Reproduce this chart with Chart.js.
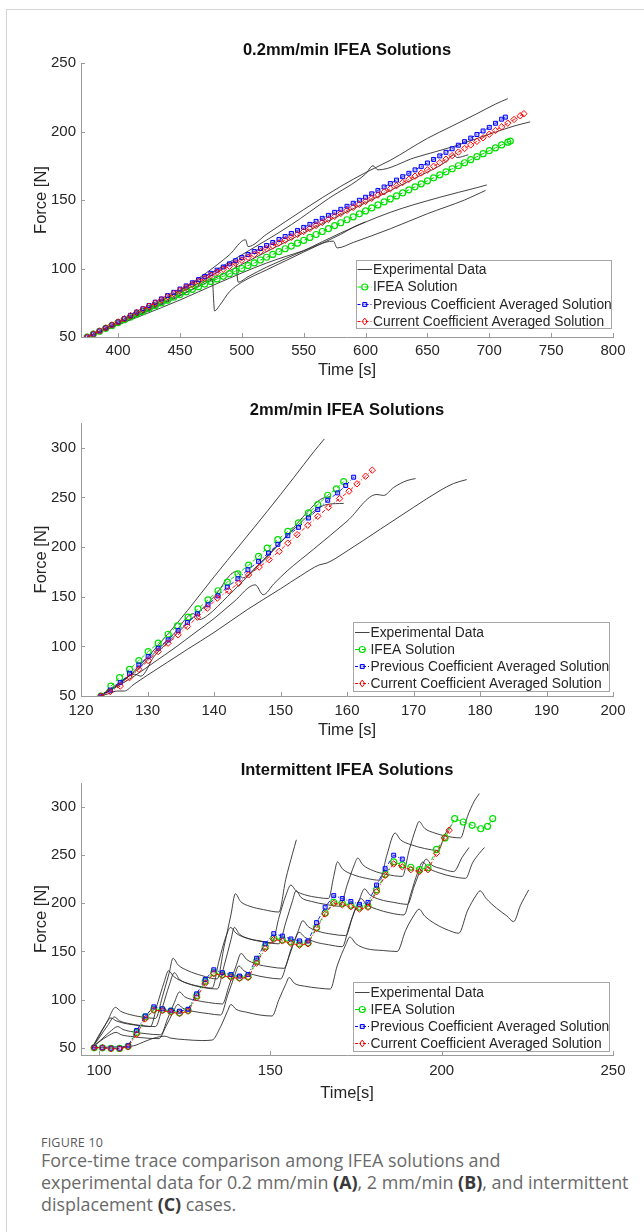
<!DOCTYPE html>
<html>
<head>
<meta charset="utf-8">
<script src="https://cdn.jsdelivr.net/npm/chart.js@4.4.1/dist/chart.umd.min.js"></script>
<style>
  html, body { margin: 0; padding: 0; background: #fff; }
  #page { position: relative; width: 644px; height: 1232px; overflow: hidden; }
  #frame { position: absolute; left: 6px; top: 9px; width: 660px; height: 1240px;
           border-top: 1px solid #d4d4d4; border-left: 1px solid #d4d4d4; }
  canvas { position: absolute; left: 0; }
  .cap { position: absolute; left: 41px; font-family: "Open Sans", "Noto Sans", sans-serif;
         color: #6a6a6a; white-space: nowrap; }
  .cap b { color: #3a3a3a; font-weight: 700; }
  #fig { top: 1134px; font-size: 12.5px; letter-spacing: 0.2px; color: #5a5a5a; }
  .ln { font-size: 17.9px; line-height: 22px; }
</style>
</head>
<body>
<div id="page">
  <div id="frame"></div>
  <canvas id="cA" width="644" height="380" style="top:0px"></canvas>
  <canvas id="cB" width="644" height="370" style="top:380px"></canvas>
  <canvas id="cC" width="644" height="360" style="top:750px"></canvas>
  <div class="cap" id="fig">FIGURE 10</div>
  <div class="cap ln" style="top:1149px">Force-time trace comparison among IFEA solutions and</div>
  <div class="cap ln" style="top:1171px">experimental data for 0.2 mm/min <b>(A)</b>, 2 mm/min <b>(B)</b>, and intermittent</div>
  <div class="cap ln" style="top:1193px">displacement <b>(C)</b> cases.</div>
</div>
<script>
// ---------- shared text ----------
const legendLabels = ['Experimental Data', 'IFEA Solution',
  'Previous Coefficient Averaged Solution', 'Current Coefficient Averaged Solution'];
const panelTitles = ['0.2mm/min IFEA Solutions', '2mm/min IFEA Solutions', 'Intermittent IFEA Solutions'];
const xTitles = ['Time [s]', 'Time [s]', 'Time[s]'];
const yTitle = 'Force [N]';

// ---------- (A) 0.2 mm/min ----------
const xTicksA = [400, 450, 500, 550, 600, 650, 700, 750, 800];
const yTicksA = [50, 100, 150, 200, 250];
const tA_ifea = [375,380,385,390,395,400,405,410,415,420,425,430,435,440,445,450,455,460,465,470,475,480,485,490,495,500,505,510,515,520,525,530,535,540,545,550,555,560,565,570,575,580,585,590,595,600,605,610,615,620,625,630,635,640,645,650,655,660,665,670,675,680,685,690,695,700,705,710,715,717];
const fA_ifea = [50,52.1,54.2,56.3,58.4,60.5,62.6,64.6,66.7,68.7,70.8,72.8,74.9,76.9,79,81,82.9,84.8,86.7,88.6,90.5,92.4,94.3,96.2,98.1,100,102.1,104.1,106.2,108.2,110.3,112.3,114.4,116.4,118.5,120.5,122.7,124.8,127,129.1,131.3,133.4,135.6,137.7,139.9,142,144.2,146.4,148.6,150.8,153,155.2,157.4,159.6,161.8,164,166.2,168.4,170.6,172.8,175,177.2,179.4,181.6,183.8,186,188.1,190.2,192.2,193];
const tA_prev = [375,380,385,390,395,400,405,410,415,420,425,430,435,440,445,450,455,460,465,470,475,480,485,490,495,500,505,510,515,520,525,530,535,540,545,550,555,560,565,570,575,580,585,590,595,600,605,610,615,620,625,630,635,640,645,650,655,660,665,670,675,680,685,690,695,700,705,710,713];
const fA_prev = [50,52.2,54.4,56.6,58.8,61,63.4,65.8,68.2,70.6,73,75.4,77.8,80.2,82.6,85,87.3,89.6,91.9,94.2,96.5,98.8,101.1,103.4,105.7,108,110.2,112.4,114.6,116.8,119,121.2,123.4,125.6,127.8,130,132.2,134.4,136.6,138.8,141,143.2,145.4,147.6,149.8,152,154.5,157,159.5,162,164.5,167,169.5,172,174.5,177,179.6,182.2,184.8,187.4,190,192.6,195.2,197.8,200.4,203,206,209,210.5];
const tA_curr = [375,380,385,390,395,400,405,410,415,420,425,430,435,440,445,450,455,460,465,470,475,480,485,490,495,500,505,510,515,520,525,530,535,540,545,550,555,560,565,570,575,580,585,590,595,600,605,610,615,620,625,630,635,640,645,650,655,660,665,670,675,680,685,690,695,700,705,710,715,720,725,728];
const fA_curr = [50,52.2,54.4,56.6,58.8,61,63.3,65.6,67.9,70.2,72.5,74.8,77.1,79.4,81.7,84,86.2,88.4,90.6,92.8,95,97.2,99.4,101.6,103.8,106,108.1,110.2,112.3,114.4,116.5,118.6,120.7,122.8,124.9,127,129.2,131.4,133.6,135.8,138,140.2,142.4,144.6,146.8,149,151.3,153.6,155.9,158.2,160.5,162.8,165.1,167.4,169.7,172,174.6,177.2,179.8,182.4,185,187.6,190.2,192.8,195.4,198,200.7,203.4,206.1,208.8,211.5,213];
const expA1 = [[375,50],[400,61],[430,74],[450,84],[470,96],[490,110],[503,121],[505,116],[520,125],[550,143],[580,160],[600,170],[620,179],[650,195],[670,204],[690,213],[705,220],[715,224]];
const expA2 = [[375,50],[400,60],[430,74],[460,89],[500,110],[540,132],[570,151],[600,169],[606,175],[610,172],[640,181],[671,189],[700,198],[720,204],[733,207]];
const expA3 = [[375,50],[400,59],[450,80],[500,103],[550,126],[600,148],[640,166],[665,178],[671,183],[674,181],[683,183]];
const expA4 = [[375,50],[400,59],[430,72],[460,85],[476,92],[478,69],[482,73],[490,83],[500,90],[520,99],[550,112],[580,125],[592,131],[600,134]];
const expA5 = [[375,50],[420,68],[450,82],[480,97],[495,105],[497,90],[505,94],[520,101],[550,113],[580,126],[620,141],[660,152],[690,159],[698,161]];
const expA6 = [[375,50],[420,66],[450,77],[480,89],[520,104],[550,113],[574,120],[577,115],[590,119],[620,129],[650,140],[680,150],[697,157]];

// ---------- (B) 2 mm/min ----------
const xTicksB = [120, 130, 140, 150, 160, 170, 180, 190, 200];
const yTicksB = [50, 100, 150, 200, 250, 300];
const tB_ifea = [123.0,124.5,125.8,127.3,128.7,130.1,131.6,133.1,134.5,136.1,137.6,139.1,140.6,142.0,143.6,145.2,146.7,148.0,149.6,151.1,152.7,154.2,155.6,157.1,158.4,159.5];
const fB_ifea = [50,60,68.5,76.9,85.7,94.8,103.2,112.2,120.7,129.4,137.8,146.9,156,164.7,173.1,181.9,190.6,199,207.5,215.9,224.3,234.4,242.8,252.2,258.6,266];
const tB_prev = [123.0,124.4,125.9,127.3,128.7,130.1,131.6,133.1,134.6,136.0,137.5,139.1,140.6,142.0,143.6,145.1,146.7,148.2,149.6,151.1,152.7,154.2,155.6,157.1,158.6,159.8,161.0];
const fB_prev = [50,56,63.5,72.9,81.3,89.7,98.1,106.5,116,124,132.8,141.9,150.9,159.7,168.1,177.2,185.6,194,202.8,211.5,219.9,229.3,237.8,247.2,254.6,262,270.4];
const tB_curr = [123.0,124.4,125.9,127.3,128.7,130.1,131.6,133.1,134.6,136.0,137.5,139.0,140.5,142.2,143.7,145.2,146.8,148.3,149.8,151.1,152.5,154.1,155.6,157.2,158.9,160.3,161.5,162.8,163.8];
const fB_curr = [50,54.4,60,68.5,76.9,85.7,94.8,103.2,111.6,120,129.4,138.5,148.6,156,163.7,172,179.9,187.3,195.7,204,212.5,222,231,240,248.9,256.3,263.7,271.4,277.5];
const expB1 = [[122.8,50],[124,55],[126,63],[128,75],[130,89],[133,112],[136,136],[140,170],[144,203],[148,236],[152,270],[155,296],[156.6,309]];
const expB2 = [[122.8,50],[124,52],[125.5,55],[126.5,55],[128,62],[130,71],[133,84],[136,97],[140,114],[145,137],[150,158],[153,171],[155.8,182],[157,184],[160,196],[165,218],[170,240],[174,257],[176,264],[178,268]];
const expB3 = [[122.8,50],[125,58],[128,70],[131,84],[134,98],[137,113],[140,128],[143,145],[146.2,162],[147.4,152],[149,163],[151,176],[155,198],[160,226],[164.5,253],[165.5,252],[167,260],[169,267],[170.3,269]];
const expB4 = [[122.8,50],[125,60],[128,74],[131,93],[134,113],[136.9,133],[137.8,127],[139,131],[142,150],[145,170],[148,190],[151,212],[154,235],[156,248],[157.5,251]];
const expB5 = [[122.8,50],[125,58],[128,72],[129,70],[131,90],[134,110],[137,130],[140,150],[143.4,175.5],[144.3,169],[146,178],[149,198],[152,218],[155,236],[157,243],[159.5,244]];

// ---------- (C) intermittent ----------
const xTicksC = [100, 150, 200, 250];
const yTicksC = [50, 100, 150, 200, 250, 300];
const tC_ifea = [98.6,101,103.5,106,108.5,111,113.5,116,118.5,121,123.5,126,128.5,131,133.5,136,138.5,141,143.5,146,148.5,151,153.5,156,158.5,161,163.5,166,168.5,171,173.5,176,178.5,181,183.5,186,188.5,191,193.5,196,198.5,201,203.8,206.3,208.9,211.4,213.4,214.9];
const fC_ifea = [50,50,49.5,49.3,51.5,66,82,90,89.5,88,86.5,89,104,119,128,126,124.5,123,124,140,155,164,162,160,158,159,175,190,201,200,198,196,197,214,230,243,240,237.5,235,237,256,268,288,284.5,281,277.5,280,288];
const tC_prev = [98.6,101,103.5,106,108.5,111,113.5,116,118.5,121,123.5,126,128.5,131,133.5,136,138.5,141,143.5,146,148.5,151,153.5,156,158.5,161,163.5,166,168.5,171,173.5,176,178.5,181,183.5,186,188.5];
const fC_prev = [50.5,50,49.5,49.5,52,68,83,92.5,90.5,89,88,90,106,121,131,128,126,124.5,126,143,158,168.5,166,163,161,161,180,196,208,205,202,199,201,219,236,250,246];
const tC_curr = [98.6,101,103.5,106,108.5,111,113.5,116,118.5,121,123.5,126,128.5,131,133.5,136,138.5,141,143.5,146,148.5,151,153.5,156,158.5,161,163.5,166,168.5,171,173.5,176,178.5,181,183.5,186,188.5,191,193.5,196,198.5,200.8,202.2];
const fC_curr = [50,50,49,49,51,64,80,89,88.5,87,85.5,88,102,117,127,125,123,122,123,138,153,162.5,161,158.5,156.5,158,174,189,200,198.5,196.5,194,196,212,229,241,238,235,233,235,252,268,276];
const expC1 = [[98,50],[100,62],[102.5,78],[104.8,92],[106.3,88],[109,84.5],[112.5,82],[116.5,80.5],[118.5,103],[120.5,128],[121.6,143],[123.1,136],[126,130],[130,125],[134.5,121.5],[136.5,155],[138.5,188],[139.8,210],[141.3,202],[144,197],[148,193.5],[152.5,191],[154.5,225],[156.5,252],[157.6,266]];
const expC2 = [[98,50],[100,60],[102.5,73],[104.5,82],[106,78],[109,75],[112.5,73],[116.5,72],[118.5,92],[120.5,115],[122,128],[123.5,121],[126.5,116],[130.5,112.5],[134.5,111],[136.5,135],[138.5,162],[139.5,175],[141,168],[144,163],[148,160],[152.5,158],[154.5,180],[156.5,203],[157.5,213],[159,206],[162,202],[166,199],[170.3,197],[172.5,220],[174.5,240],[175.5,247],[177,240],[180,234],[184,230],[188.5,228],[190.5,255],[192.5,278],[193.4,285],[195,278],[198,273],[201,270],[205.5,268],[207.5,290],[209.5,306],[211,314]];
const expC3 = [[98,50],[105,51],[110,52],[113,56],[116,60],[119.2,62],[121,60],[125,58.5],[130,57.5],[133,58],[135.5,72],[137.5,88],[138.5,95],[140,90],[143,87],[147,84],[150.5,83],[152.5,100],[154.5,116],[155.5,123],[157,117],[160,114],[164,112],[167.5,111],[169.5,135],[172,157],[173.2,165],[175,158],[178,153],[183,151],[187,150],[189.5,172],[192,188],[193.4,194],[195,187],[198,179],[202,172],[205,169],[207.5,192],[210,208],[211.2,213],[213,205],[216,195],[219,187],[221,181],[223,198],[225.4,214]];
const expC4 = [[98,50],[100.5,58],[103,66],[105.5,72],[107,69],[110,66.5],[114,64.5],[118,63.5],[120,80],[122,97],[123.5,108],[125,103],[128,99.5],[132,97],[136,95.5],[138,115],[140,135],[141.5,148],[143,142],[146,137],[150,134],[154,132.5],[156,152],[158,170],[159.5,182],[161,176],[164,171],[168,168],[172,166.5],[174,186],[176,204],[177.5,215],[179,209],[182,204],[186,201],[190,199],[192,218],[194,236],[195.5,246],[197,240],[200,236],[203.5,233],[206,248],[208,258]];
const expC5 = [[98,50],[100,56],[102.5,62],[105,66],[106.5,63.5],[110,61.5],[114,60],[117.5,59.5],[119.5,72],[121.5,86],[123,95],[124.5,91],[128,87.5],[132,85.5],[135.5,84],[137.5,104],[139.5,124],[140.8,135],[142.3,130],[145,126],[149,123],[153,121.5],[155,140],[157,160],[158.4,170],[160,165],[163,160],[167,157],[171,155],[173,176],[175,196],[176.5,205],[178,199],[181,194],[185,190],[189,188],[191,210],[193,232],[194.5,243],[196,237],[199,232],[203,228],[207,226],[209,242],[211,252],[212.5,258]];
const expC6 = [[98,50],[99.5,60],[101.5,72],[103.5,81],[105,78],[108,75],[112,73],[115,72],[117,95],[119,118],[120.3,130],[121.8,124],[125,118],[129,114],[133,112],[135,140],[137,165],[138.4,175],[140,169],[143,164],[147,161],[150.5,159],[152.5,185],[154.5,208],[156,219],[157.5,213],[160,209],[164,206],[167,205],[168.5,228],[169.6,243],[171,236],[174,230],[178,226],[182,224],[184,250],[186.4,273],[188,266],[191,261],[195,257],[199,255],[201,272],[203,282]];

// ---------- drawing helpers ----------
const FONT = '"Liberation Sans", Arial, Helvetica, sans-serif';
const AXIS = '#9a9a9a';
const INK = '#262626';
const GREEN = '#00e000', BLUE = '#0000ff', RED = '#ff0000', EXP = '#2e2e2e';

const pts = (t, f) => t.map((x, i) => ({ x, y: f[i] }));
const pairPts = a => a.map(p => ({ x: p[0], y: p[1] }));

function expSet(a) {
  return { data: pairPts(a), borderColor: EXP, borderWidth: 0.9, pointRadius: 0,
           cubicInterpolationMode: 'monotone', order: 4 };
}
function ifeaSet(t, f) {
  return { data: pts(t, f), borderColor: GREEN, borderWidth: 1, borderDash: [4, 3],
           pointStyle: 'circle', pointRadius: 3, pointBorderWidth: 1.2,
           pointBorderColor: GREEN, pointBackgroundColor: 'rgba(0,0,0,0)', order: 3 };
}
function prevSet(t, f) {
  return { data: pts(t, f), borderColor: BLUE, borderWidth: 0.9, borderDash: [4, 2, 1, 2],
           pointStyle: 'rect', pointRadius: 2.8, pointBorderWidth: 1,
           pointBorderColor: BLUE, pointBackgroundColor: 'rgba(90,90,255,0.35)', order: 2 };
}
function currSet(t, f) {
  return { data: pts(t, f), borderColor: RED, borderWidth: 0.9, borderDash: [4, 2, 1, 2],
           pointStyle: 'rectRot', pointRadius: 3.2, pointBorderWidth: 1,
           pointBorderColor: RED, pointBackgroundColor: 'rgba(0,0,0,0)', order: 1 };
}

function marker(ctx, kind, x, y) {
  ctx.setLineDash([]);
  ctx.beginPath();
  if (kind === 'circle') {
    ctx.strokeStyle = GREEN; ctx.lineWidth = 1.2;
    ctx.arc(x, y, 3, 0, Math.PI * 2); ctx.stroke();
  } else if (kind === 'rect') {
    ctx.strokeStyle = BLUE; ctx.lineWidth = 1; ctx.fillStyle = 'rgba(90,90,255,0.35)';
    ctx.rect(x - 2, y - 2, 4, 4); ctx.fill(); ctx.stroke();
  } else if (kind === 'diamond') {
    ctx.strokeStyle = RED; ctx.lineWidth = 1;
    ctx.moveTo(x, y - 3.4); ctx.lineTo(x + 2.6, y); ctx.lineTo(x, y + 3.4); ctx.lineTo(x - 2.6, y);
    ctx.closePath(); ctx.stroke();
  }
}

// Titles, axis names, inward tick marks and the boxed legend of each panel
const decor = {
  id: 'decor',
  afterDraw(chart, args, o) {
    const ctx = chart.ctx;
    const { left, right, top, bottom } = chart.chartArea;
    const xs = chart.scales.x, ys = chart.scales.y;
    ctx.save();
    ctx.strokeStyle = AXIS; ctx.lineWidth = 1; ctx.setLineDash([]);
    ys.ticks.forEach(t => {
      const y = Math.round(ys.getPixelForValue(t.value)) + 0.5;
      ctx.beginPath(); ctx.moveTo(left, y); ctx.lineTo(left + 4, y); ctx.stroke();
    });
    xs.ticks.forEach(t => {
      const x = Math.round(xs.getPixelForValue(t.value)) + 0.5;
      ctx.beginPath(); ctx.moveTo(x, bottom); ctx.lineTo(x, bottom - 4); ctx.stroke();
    });
    const cx = (left + right) / 2;
    ctx.fillStyle = '#111';
    ctx.textAlign = 'center'; ctx.textBaseline = 'middle';
    ctx.font = 'bold 16.5px ' + FONT;
    ctx.fillText(o.title, cx, o.titleY);
    ctx.fillStyle = INK;
    ctx.font = '16.5px ' + FONT;
    ctx.fillText(o.xTitle, cx, o.xTitleY);
    ctx.save();
    ctx.translate(41, (top + bottom) / 2);
    ctx.rotate(-Math.PI / 2);
    ctx.fillText(yTitle, 0, 0);
    ctx.restore();

    // legend
    const L = o.legend;
    ctx.fillStyle = '#fff';
    ctx.fillRect(L.x0, L.y0, L.x1 - L.x0, L.y1 - L.y0);
    ctx.strokeStyle = '#a6a6a6'; ctx.lineWidth = 1;
    ctx.strokeRect(L.x0 + 0.5, L.y0 + 0.5, L.x1 - L.x0 - 1, L.y1 - L.y0 - 1);
    const kinds = [null, 'circle', 'rect', 'diamond'];
    const cols = [EXP, GREEN, BLUE, RED];
    const dashes = [[], [4, 3], [3, 2, 1, 2], [3, 2, 1, 2]];
    ctx.font = '13.8px ' + FONT;
    ctx.textAlign = 'left';
    legendLabels.forEach((lab, i) => {
      const y = L.rows[i];
      ctx.strokeStyle = cols[i]; ctx.lineWidth = i === 0 ? 0.9 : 1;
      ctx.setLineDash(dashes[i]);
      ctx.beginPath(); ctx.moveTo(L.s0, y + 0.5); ctx.lineTo(L.s1, y + 0.5); ctx.stroke();
      if (kinds[i]) marker(ctx, kinds[i], (L.s0 + L.s1) / 2, y + 0.5);
      ctx.fillStyle = INK;
      ctx.fillText(lab, L.s1 + 1, y + 1);
    });
    ctx.restore();
  }
};

function buildChart(id, H, box, xr, yr, xTicks, yTicks, datasets, decorOpts) {
  return new Chart(document.getElementById(id), {
    type: 'line',
    data: { datasets },
    options: {
      responsive: false, animation: false, devicePixelRatio: 1, events: [],
      layout: { padding: { left: 0, right: 644 - box.right, top: box.top, bottom: 0 } },
      plugins: { legend: { display: false }, tooltip: { enabled: false }, decor: decorOpts },
      elements: { line: { tension: 0 } },
      scales: {
        x: {
          type: 'linear', min: xr[0], max: xr[1],
          grid: { display: false, drawTicks: false },
          border: { display: true, color: AXIS, width: 1 },
          ticks: { color: INK, font: { size: 15, family: FONT }, padding: box.xPad, maxRotation: 0, autoSkip: false },
          afterBuildTicks: s => { s.ticks = xTicks.map(v => ({ value: v })); },
          afterFit: s => { s.height = H - box.bottom; }
        },
        y: {
          type: 'linear', min: yr[0], max: yr[1],
          grid: { display: false, drawTicks: false },
          border: { display: true, color: AXIS, width: 1 },
          ticks: { color: INK, font: { size: 15, family: FONT }, padding: 5, autoSkip: false },
          afterBuildTicks: s => { s.ticks = yTicks.map(v => ({ value: v })); },
          afterFit: s => { s.width = 81; }
        }
      }
    },
    plugins: [decor]
  });
}

buildChart('cA', 380, { top: 63, bottom: 337, right: 613, xPad: 5 }, [370, 800], [50, 250],
  xTicksA, yTicksA,
  [currSet(tA_curr, fA_curr), prevSet(tA_prev, fA_prev), ifeaSet(tA_ifea, fA_ifea),
   ...[expA1, expA2, expA3, expA4, expA5, expA6].map(expSet)],
  { title: panelTitles[0], titleY: 50, xTitle: xTitles[0], xTitleY: 370,
    legend: { x0: 356, x1: 612, y0: 260, y1: 329, s0: 357.5, s1: 372, rows: [269, 286.5, 304, 321] } });

buildChart('cB', 370, { top: 43, bottom: 316, right: 613, xPad: 6 }, [120, 200], [50, 325],
  xTicksB, yTicksB,
  [currSet(tB_curr, fB_curr), prevSet(tB_prev, fB_prev), ifeaSet(tB_ifea, fB_ifea),
   ...[expB1, expB2, expB3, expB4, expB5].map(expSet)],
  { title: panelTitles[1], titleY: 30, xTitle: xTitles[1], xTitleY: 350,
    legend: { x0: 353, x1: 610, y0: 242, y1: 312, s0: 355, s1: 369.5, rows: [252, 269, 286, 303] } });

buildChart('cC', 360, { top: 33, bottom: 305, right: 613, xPad: 7 }, [94.75, 250], [42.5, 325],
  xTicksC, yTicksC,
  [currSet(tC_curr, fC_curr), prevSet(tC_prev, fC_prev), ifeaSet(tC_ifea, fC_ifea),
   ...[expC1, expC2, expC3, expC4, expC5, expC6].map(expSet)],
  { title: panelTitles[2], titleY: 20, xTitle: xTitles[2], xTitleY: 343,
    legend: { x0: 353, x1: 610, y0: 232, y1: 302, s0: 355, s1: 369.5, rows: [242, 259, 276, 293] } });
</script>
</body>
</html>
